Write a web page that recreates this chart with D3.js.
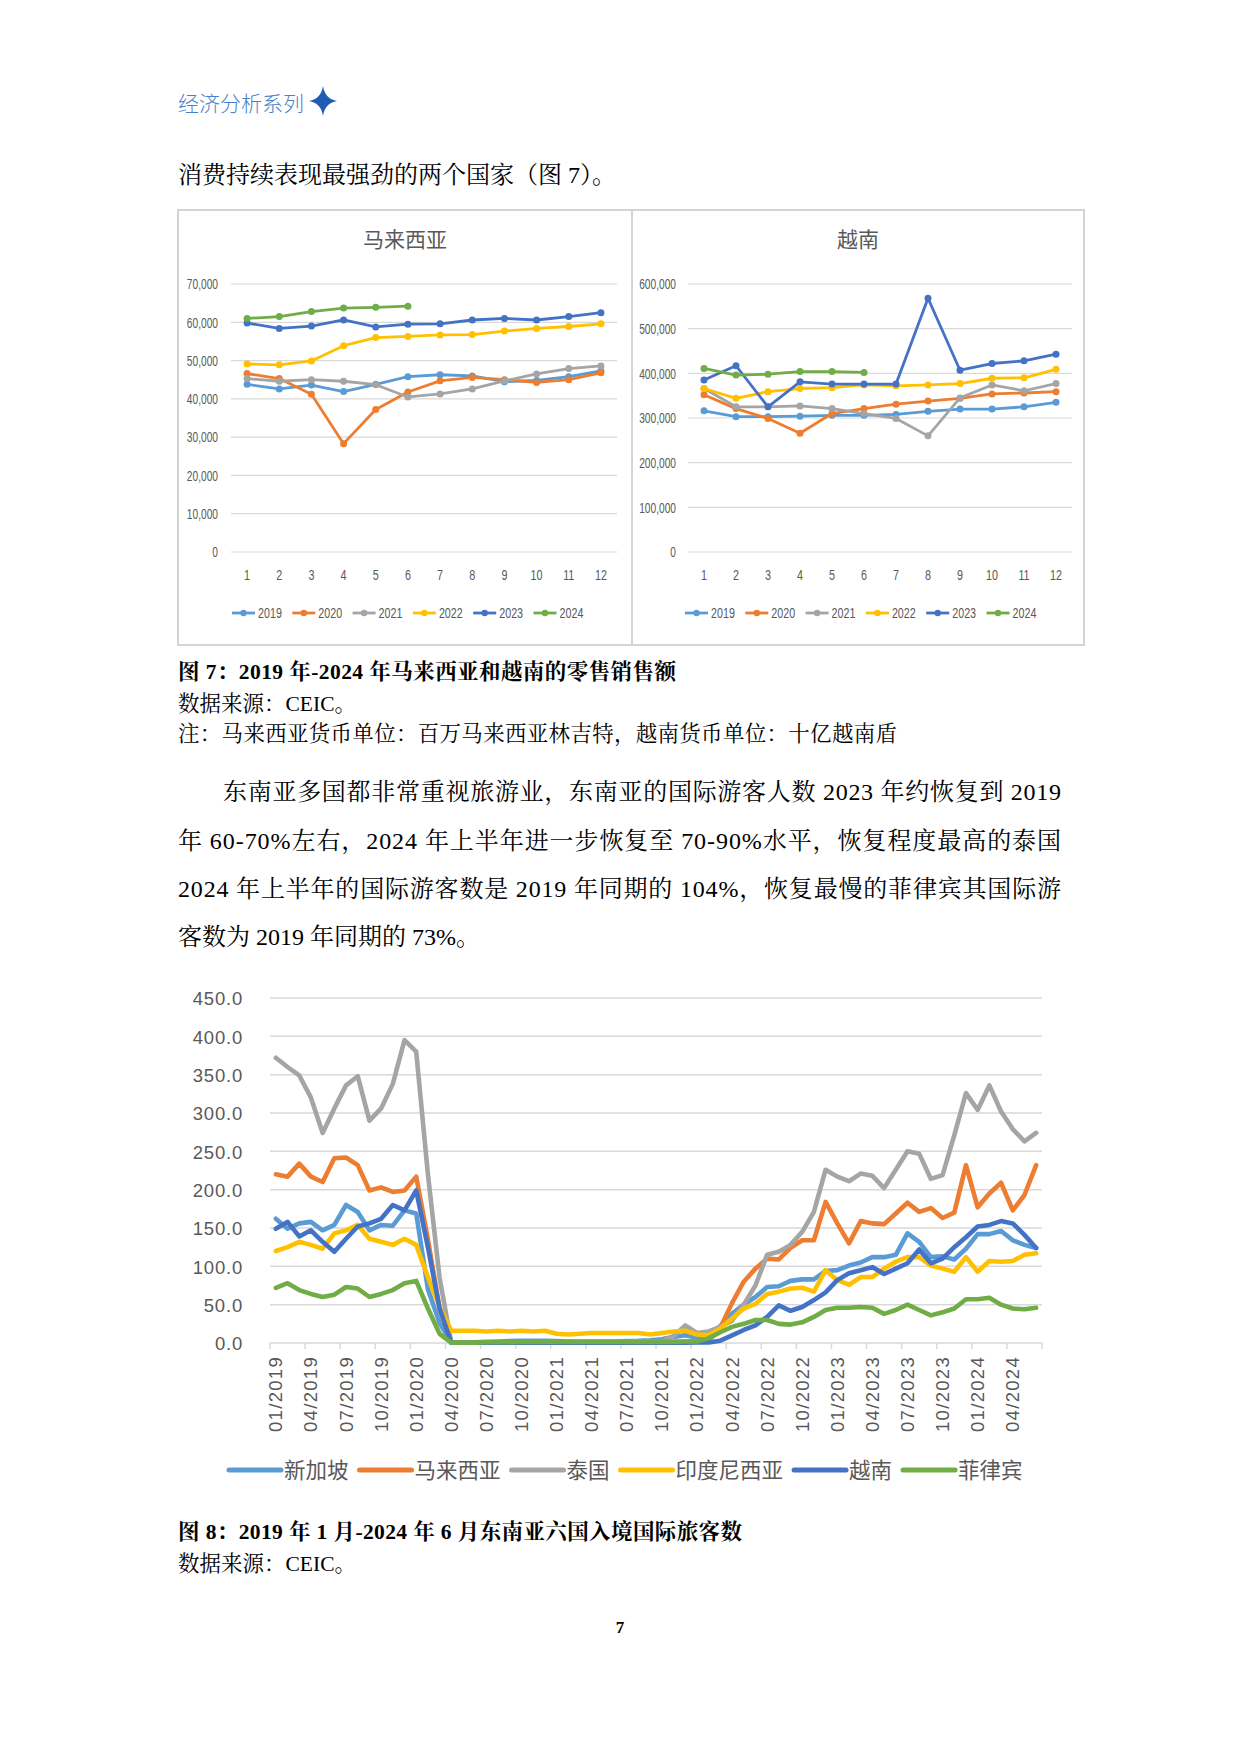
<!DOCTYPE html>
<html><head><meta charset="utf-8">
<script src="https://cdn.jsdelivr.net/npm/d3@7/dist/d3.min.js"></script>
<style>body{margin:0;background:#fff} svg{display:block}</style>
</head><body>
<svg id="page" width="1240" height="1754" xmlns="http://www.w3.org/2000/svg"></svg>
<script>
// ---------- Figure 7 data ----------
const retailMonths = [1,2,3,4,5,6,7,8,9,10,11,12];
const retailYears = ["2019","2020","2021","2022","2023","2024"];
const retailColors = ["#5b9bd5","#ed7d31","#a5a5a5","#ffc000","#4472c4","#70ad47"];
const malaysiaTicks = [0,10000,20000,30000,40000,50000,60000,70000];
const vietnamTicks = [0,100000,200000,300000,400000,500000,600000];

const my2019 = [43800,42600,43600,41900,43800,45800,46300,46000,44500,44800,45800,47300];
const my2020 = [46600,45300,41200,28300,37200,41800,44700,45600,45000,44300,45000,46800];
const my2021 = [45300,44600,45000,44600,43700,40500,41300,42600,44700,46500,47900,48600];
const my2022 = [49100,48900,49900,53900,56000,56300,56700,56800,57700,58400,58900,59600];
const my2023 = [59800,58400,59000,60600,58800,59500,59600,60600,61000,60600,61500,62500];
const my2024 = [61000,61500,62800,63700,63900,64200];

const vn2019 = [316000,303000,303000,304000,306000,306000,308000,315000,320000,320000,325000,335000];
const vn2020 = [352000,321000,299000,266000,310000,321000,331000,338000,344000,354000,356000,359000];
const vn2021 = [366000,325000,325000,327000,321000,310000,299000,260000,345000,374000,361000,377000];
const vn2022 = [366000,344000,359000,366000,368000,374000,372000,374000,377000,389000,390000,409000];
const vn2023 = [385000,417000,325000,381000,376000,376000,376000,568000,407000,422000,428000,443000];
const vn2024 = [411000,396000,398000,404000,404000,402000];

// ---------- Figure 8 data (10k persons) ----------
const countryNames = ["新加坡","马来西亚","泰国","印度尼西亚","越南","菲律宾"];
const countryColors = ["#5b9bd5","#ed7d31","#a5a5a5","#ffc000","#4472c4","#70ad47"];
const arrivalYears = ["2019","2020","2021","2022","2023","2024"];
const arrivalTicks = [0,50,100,150,200,250,300,350,400,450];
const monthTickLabels = ["01/2019","04/2019","07/2019","10/2019","01/2020","04/2020","07/2020","10/2020",
  "01/2021","04/2021","07/2021","10/2021","01/2022","04/2022","07/2022","10/2022",
  "01/2023","04/2023","07/2023","10/2023","01/2024","04/2024"];

const sgp = [162,149,156,158,147,154,180,171,147,154,153,173,
  169,70,26,0.5,0.7,1,1.5,2,2.5,2.8,3,3,
  2.5,2,1.8,1.8,1.8,2,2.5,2.8,3.5,5,8,10,
  7,10,22,38,50,60,73,74,81,83,83,94,
  95,101,105,112,112,115,143,132,112,113,109,123,
  142,142,146,134,128,124];
const mys = [220,217,234,217,210,241,242,232,199,203,197,199,
  217,135,45,0.5,0.7,0.8,1,1,1,1,1,1,
  1,1,1,1,1,1,1,1,1,1,1.5,2,
  2,3,20,52,80,97,110,109,124,134,134,184,
  156,130,159,156,155,169,183,171,176,163,170,232,
  177,195,209,173,193,232];
const tha = [372,360,349,320,274,306,336,348,290,306,338,395,
  380,220,85,0.3,0.3,0.3,0.3,0.3,0.3,0.5,0.5,0.6,
  0.8,0.6,0.7,0.6,0.3,0.5,1.8,1.7,1.9,2.2,9,23,
  13,15,21,29,50,75,115,119,128,145,171,226,
  217,211,221,218,202,226,250,247,214,219,271,326,
  304,336,302,279,263,274];
const idn = [120,125,132,128,123,143,147,154,136,132,128,136,
  128,86,47,16,16,16,15,16,15,16,15,16,
  12,11,12,13,13,13,13,13,11,13,15,16,
  11,10,19,32,45,51,64,67,71,72,67,95,
  82,76,86,86,97,106,112,112,101,97,93,112,
  93,107,106,107,115,117];
const vnm = [149,158,139,147,132,119,136,152,156,162,180,173,
  199,125,45,0.3,0.3,0.3,0.3,0.3,0.3,0.3,0.3,0.3,
  0.3,0.3,0.3,0.3,0.3,0.3,0.3,0.3,0.3,0.3,0.3,0.5,
  0.8,0.6,3,10,17,23,34,49,42,47,56,66,
  82,91,95,99,90,97,104,122,104,110,125,138,
  152,154,159,156,141,124];
const phl = [72,78,69,64,60,63,73,71,60,64,69,78,
  81,45,12,0.5,0.5,0.5,1,1,1,1.5,1.5,1.5,
  1.5,1.5,1.5,1.5,1.5,1.5,1.5,1.5,1.5,1.5,1.5,2,
  2,6,14,21,25,30,30,25,24,27,34,43,
  46,46,47,46,38,43,50,43,36,40,45,57,
  57,59,50,45,44,46];

// ---------- page ----------
const svg = d3.select("#page");
const SERIF = "'Liberation Serif','Noto Serif CJK SC','Noto Sans CJK SC',serif";
const CJK = "'Noto Sans CJK SC','Liberation Sans',sans-serif";
const AX = "'Liberation Sans','Noto Sans CJK SC',sans-serif";

svg.append("rect").attr("width",1240).attr("height",1754).attr("fill","#fff");

// header
svg.append("text").attr("x",178).attr("y",111).attr("font-family",CJK).attr("font-size",21)
  .attr("fill","#4a7fcc").attr("font-weight",300).text("经济分析系列");
svg.append("path").attr("d","M323,86 Q325,99 337,101 Q325,103 323,116 Q321,103 309,101 Q321,99 323,86 Z")
  .attr("fill","#1f5cb4");

svg.append("text").attr("x",178).attr("y",183).attr("font-family",SERIF).attr("font-size",24)
  .attr("fill","#000").text("消费持续表现最强劲的两个国家（图 7）。");

// ---------- Figure 7 panels ----------
function drawPanel(o){
  const g = svg.append("g");
  g.append("rect").attr("x",o.bx0).attr("y",210).attr("width",o.bx1-o.bx0).attr("height",435)
    .attr("fill","#fff").attr("stroke","#d4d4d4").attr("stroke-width",2);
  g.append("text").attr("x",o.titleX).attr("y",247).attr("text-anchor","middle")
    .attr("font-family",CJK).attr("font-size",21).attr("fill","#595959").text(o.title);
  const x = d3.scaleBand().domain(retailMonths).range([o.pl,o.pr]);
  const y = d3.scaleLinear().domain([0,d3.max(o.ticks)]).range([552,284]);
  g.selectAll("line.grid").data(o.ticks).join("line").attr("class","grid")
    .attr("x1",o.pl).attr("x2",o.pr).attr("y1",d=>y(d)).attr("y2",d=>y(d))
    .attr("stroke","#d9d9d9").attr("stroke-width",1.2);
  const sc = 0.68;
  const ya = g.append("g").attr("transform",`translate(${o.pl},0)`)
    .call(d3.axisLeft(y).tickValues(o.ticks).tickFormat(d3.format(",")).tickSize(0).tickPadding(0));
  ya.select(".domain").remove();
  ya.selectAll("text").attr("font-family",AX).attr("font-size",15).attr("fill","#595959")
    .attr("x",-o.pad/sc).attr("transform",`scale(${sc},1)`);
  const xa = g.append("g").attr("transform","translate(0,552)")
    .call(d3.axisBottom(x).tickSize(0).tickPadding(17));
  xa.select(".domain").remove();
  xa.selectAll("text").attr("font-family",AX).attr("font-size",15).attr("fill","#595959")
    .attr("x",0).attr("transform","scale(0.72,1)");
  const line = d3.line().x((d,i)=>x(retailMonths[i])+x.bandwidth()/2).y(d=>y(d));
  o.series.forEach((s,k)=>{
    g.append("path").datum(s).attr("d",line).attr("fill","none")
      .attr("stroke",retailColors[k]).attr("stroke-width",2.8).attr("stroke-linejoin","round");
    g.selectAll(null).data(s).join("circle")
      .attr("cx",(d,i)=>x(retailMonths[i])+x.bandwidth()/2).attr("cy",d=>y(d))
      .attr("r",3.5).attr("fill",retailColors[k]);
  });
  // legend
  retailYears.forEach((yr,k)=>{
    const lx = o.legX + k*60.3;
    g.append("line").attr("x1",lx).attr("x2",lx+23).attr("y1",613).attr("y2",613)
      .attr("stroke",retailColors[k]).attr("stroke-width",2.8);
    g.append("circle").attr("cx",lx+11.5).attr("cy",613).attr("r",3.2).attr("fill",retailColors[k]);
    g.append("text").attr("transform",`translate(${lx+26},618) scale(0.74,1)`)
      .attr("font-family",AX).attr("font-size",14.5).attr("fill","#595959").text(yr);
  });
}
drawPanel({bx0:178,bx1:632,title:"马来西亚",titleX:405,pl:231,pr:617,pad:13,ticks:malaysiaTicks,
  series:[my2019,my2020,my2021,my2022,my2023,my2024],legX:232});
drawPanel({bx0:632,bx1:1084,title:"越南",titleX:858,pl:688,pr:1072,pad:12,ticks:vietnamTicks,
  series:[vn2019,vn2020,vn2021,vn2022,vn2023,vn2024],legX:685});

// captions fig 7
svg.append("text").attr("x",178).attr("y",679).attr("font-family",SERIF).attr("font-size",21.5)
  .attr("font-weight","bold").attr("textLength",498).attr("lengthAdjust","spacing")
  .text("图 7：2019 年-2024 年马来西亚和越南的零售销售额");
svg.append("text").attr("x",178).attr("y",711).attr("font-family",SERIF).attr("font-size",21.5)
  .text("数据来源：CEIC。");
svg.append("text").attr("x",178).attr("y",741).attr("font-family",SERIF).attr("font-size",21.5)
  .attr("textLength",719).attr("lengthAdjust","spacing")
  .text("注：马来西亚货币单位：百万马来西亚林吉特，越南货币单位：十亿越南盾");

// body paragraph
const bodyLines = [
  {t:"东南亚多国都非常重视旅游业，东南亚的国际游客人数 2023 年约恢复到 2019", x:223, y:800, w:838},
  {t:"年 60-70%左右，2024 年上半年进一步恢复至 70-90%水平，恢复程度最高的泰国", x:178, y:849, w:883},
  {t:"2024 年上半年的国际游客数是 2019 年同期的 104%，恢复最慢的菲律宾其国际游", x:178, y:897, w:883},
  {t:"客数为 2019 年同期的 73%。", x:178, y:945, w:null}
];
bodyLines.forEach(l=>{
  const t = svg.append("text").attr("x",l.x).attr("y",l.y).attr("font-family",SERIF)
    .attr("font-size",24).attr("fill","#000").text(l.t);
  if(l.w) t.attr("textLength",l.w).attr("lengthAdjust","spacing");
});

// ---------- Figure 8 ----------
const months = [];
arrivalYears.forEach(yr=>{ for(let m=1;m<=12;m++){ if(yr==="2024" && m>6) break; months.push((m<10?"0":"")+m+"/"+yr);} });
const gx = d3.scaleBand().domain(months).range([270,1042]);
const gy = d3.scaleLinear().domain([0,450]).range([1343,998]);
const g8 = svg.append("g");
g8.selectAll("line.grid").data(arrivalTicks.filter(d=>d>0)).join("line")
  .attr("x1",270).attr("x2",1042).attr("y1",d=>gy(d)).attr("y2",d=>gy(d))
  .attr("stroke","#d9d9d9").attr("stroke-width",1.5);
const yAx = g8.append("g").attr("transform","translate(270,0)")
  .call(d3.axisLeft(gy).tickValues(arrivalTicks).tickFormat(d3.format(".1f")).tickSize(0).tickPadding(27));
yAx.select(".domain").remove();
yAx.selectAll("text").attr("font-family",AX).attr("font-size",18.5).attr("fill","#595959")
  .attr("letter-spacing",0.8).attr("dy","0.36em");
// x axis line + ticks
g8.append("line").attr("x1",270).attr("x2",1042).attr("y1",gy(0)).attr("y2",gy(0))
  .attr("stroke","#d9d9d9").attr("stroke-width",1.5);
const tickIdx = months.map((m,i)=>i).filter(i=>i%3===0).concat([months.length]);
g8.selectAll("line.xt").data(tickIdx).join("line")
  .attr("x1",i=>i<months.length?gx(months[i]):gx.range()[1])
  .attr("x2",i=>i<months.length?gx(months[i]):gx.range()[1])
  .attr("y1",gy(0)).attr("y2",gy(0)+6).attr("stroke","#d9d9d9").attr("stroke-width",1.5);
g8.selectAll("text.xl").data(monthTickLabels).join("text")
  .attr("transform",d=>`translate(${gx(d)+gx.bandwidth()/2+6.5},1356) rotate(-90)`)
  .attr("text-anchor","end").attr("font-family",AX).attr("font-size",18.5)
  .attr("letter-spacing",1.3).attr("fill","#595959").text(d=>d);
const gline = d3.line().x((d,i)=>gx(months[i])+gx.bandwidth()/2).y(d=>gy(d));
[sgp,mys,tha,idn,vnm,phl].forEach((s,k)=>{
  g8.append("path").datum(s).attr("d",gline).attr("fill","none")
    .attr("stroke",countryColors[k]).attr("stroke-width",4.6)
    .attr("stroke-linejoin","round").attr("stroke-linecap","round");
});
// legend
let lx = 229;
countryNames.forEach((n,k)=>{
  g8.append("line").attr("x1",lx).attr("x2",lx+52).attr("y1",1470).attr("y2",1470)
    .attr("stroke",countryColors[k]).attr("stroke-width",5).attr("stroke-linecap","round");
  const t = g8.append("text").attr("x",lx+55).attr("y",1477.5).attr("font-family",CJK)
    .attr("font-size",21.5).attr("fill","#595959").text(n);
  lx = lx + 55 + t.node().getComputedTextLength() + 11;
});

// captions fig 8
svg.append("text").attr("x",178).attr("y",1539).attr("font-family",SERIF).attr("font-size",21.5)
  .attr("font-weight","bold").attr("textLength",564).attr("lengthAdjust","spacing")
  .text("图 8：2019 年 1 月-2024 年 6 月东南亚六国入境国际旅客数");
svg.append("text").attr("x",178).attr("y",1571).attr("font-family",SERIF).attr("font-size",21.5)
  .text("数据来源：CEIC。");
svg.append("text").attr("x",620).attr("y",1633).attr("text-anchor","middle").attr("font-family",SERIF)
  .attr("font-size",17).attr("font-weight","bold").text("7");
</script>
</body></html>
